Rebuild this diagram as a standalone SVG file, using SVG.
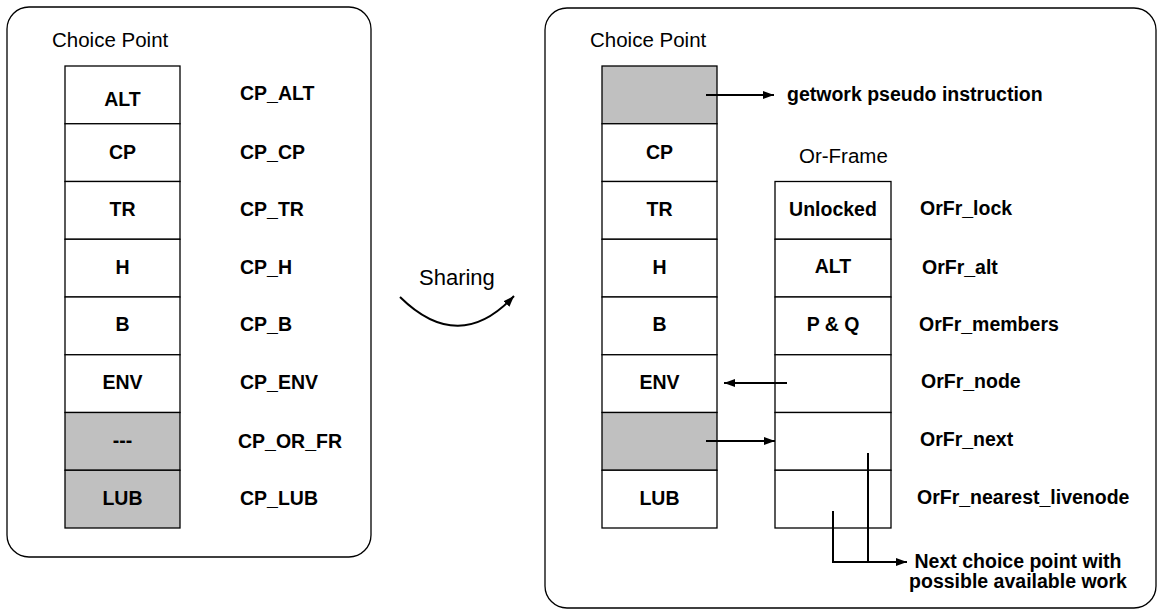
<svg xmlns="http://www.w3.org/2000/svg" width="1162" height="611" viewBox="0 0 1162 611">
<style>
.panel{fill:#fff;stroke:#000;stroke-width:1.3}
.cell{fill:#fff;stroke:#000;stroke-width:1.3}
.gray{fill:#c0c0c0;stroke:#000;stroke-width:1.3}
.b{font-family:"Liberation Sans",Arial,sans-serif;font-weight:bold;font-size:19.5px;fill:#000}
.c{text-anchor:middle}
.r{font-family:"Liberation Sans",Arial,sans-serif;font-size:20.5px;fill:#000}
.ln{fill:none;stroke:#000;stroke-width:2}
</style>
<defs>
<marker id="ah" markerUnits="userSpaceOnUse" markerWidth="12" markerHeight="9" refX="11" refY="4" orient="auto">
<path d="M0,0 L11,4 L0,8 z" fill="#000"/>
</marker>
</defs>
<rect width="1162" height="611" fill="#fff"/>
<g id="left-panel">
<rect class="panel" x="7" y="7" width="364" height="550" rx="22"/>
<text class="r" x="52" y="47">Choice Point</text>
</g>
<g id="left-choice-point">
<rect class="cell" x="65" y="66" width="115" height="57.75"/>
<rect class="cell" x="65" y="123.75" width="115" height="57.75"/>
<rect class="cell" x="65" y="181.5" width="115" height="57.75"/>
<rect class="cell" x="65" y="239.25" width="115" height="57.75"/>
<rect class="cell" x="65" y="297" width="115" height="57.75"/>
<rect class="cell" x="65" y="354.75" width="115" height="57.75"/>
<rect class="gray" x="65" y="412.5" width="115" height="57.75"/>
<rect class="gray" x="65" y="470.25" width="115" height="57.75"/>
<text class="b c" x="122.5" y="106">ALT</text>
<text class="b c" x="122.5" y="159">CP</text>
<text class="b c" x="122.5" y="216">TR</text>
<text class="b c" x="122.5" y="274">H</text>
<text class="b c" x="122.5" y="331">B</text>
<text class="b c" x="122.5" y="389">ENV</text>
<text class="b c" x="122.5" y="447">---</text>
<text class="b c" x="122.5" y="505">LUB</text>
</g>
<g id="left-labels">
<text class="b" x="240" y="100">CP_ALT</text>
<text class="b" x="240" y="159">CP_CP</text>
<text class="b" x="240" y="216">CP_TR</text>
<text class="b" x="240" y="274">CP_H</text>
<text class="b" x="240" y="331">CP_B</text>
<text class="b" x="240" y="389">CP_ENV</text>
<text class="b" x="238" y="448">CP_OR_FR</text>
<text class="b" x="240" y="505">CP_LUB</text>
</g>
<g id="sharing">
<text class="r" x="419" y="285" style="font-size:22px">Sharing</text>
</g>
<g id="right-panel">
<rect class="panel" x="545" y="8" width="611" height="600" rx="22"/>
<text class="r" x="590" y="47">Choice Point</text>
<text class="r" x="799" y="163">Or-Frame</text>
</g>
<g id="right-choice-point">
<rect class="gray" x="602" y="66" width="115" height="57.75"/>
<rect class="cell" x="602" y="123.75" width="115" height="57.75"/>
<rect class="cell" x="602" y="181.5" width="115" height="57.75"/>
<rect class="cell" x="602" y="239.25" width="115" height="57.75"/>
<rect class="cell" x="602" y="297" width="115" height="57.75"/>
<rect class="cell" x="602" y="354.75" width="115" height="57.75"/>
<rect class="gray" x="602" y="412.5" width="115" height="57.75"/>
<rect class="cell" x="602" y="470.25" width="115" height="57.75"/>
<text class="b c" x="659.5" y="159">CP</text>
<text class="b c" x="659.5" y="216">TR</text>
<text class="b c" x="659.5" y="274">H</text>
<text class="b c" x="659.5" y="331">B</text>
<text class="b c" x="659.5" y="389">ENV</text>
<text class="b c" x="659.5" y="505">LUB</text>
</g>
<g id="or-frame">
<rect class="cell" x="775" y="181.5" width="116" height="57.75"/>
<rect class="cell" x="775" y="239.25" width="116" height="57.75"/>
<rect class="cell" x="775" y="297" width="116" height="57.75"/>
<rect class="cell" x="775" y="354.75" width="116" height="57.75"/>
<rect class="cell" x="775" y="412.5" width="116" height="57.75"/>
<rect class="cell" x="775" y="470.25" width="116" height="57.75"/>
<text class="b c" x="833" y="216">Unlocked</text>
<text class="b c" x="833" y="273">ALT</text>
<text class="b c" x="833" y="331">P &amp; Q</text>
</g>
<g id="right-labels">
<text class="b" x="787" y="101">getwork pseudo instruction</text>
<text class="b" x="920" y="215">OrFr_lock</text>
<text class="b" x="922" y="274">OrFr_alt</text>
<text class="b" x="919" y="331">OrFr_members</text>
<text class="b" x="921" y="388">OrFr_node</text>
<text class="b" x="920" y="446">OrFr_next</text>
<text class="b" x="917" y="504">OrFr_nearest_livenode</text>
<text class="b c" x="1018" y="568">Next choice point with</text>
<text class="b c" x="1018" y="588">possible available work</text>
</g>
<g id="connectors">
<path class="ln" d="M400,297 Q459,355 514,296" marker-end="url(#ah)"/>
<line class="ln" x1="706" y1="95" x2="774" y2="95" marker-end="url(#ah)"/>
<line class="ln" x1="787" y1="383" x2="724" y2="383" marker-end="url(#ah)"/>
<line class="ln" x1="706" y1="441" x2="775" y2="441" marker-end="url(#ah)"/>
<line class="ln" x1="868" y1="453" x2="868" y2="562"/>
<polyline class="ln" points="833,511 833,562 907,562" marker-end="url(#ah)"/>
</g>
</svg>
